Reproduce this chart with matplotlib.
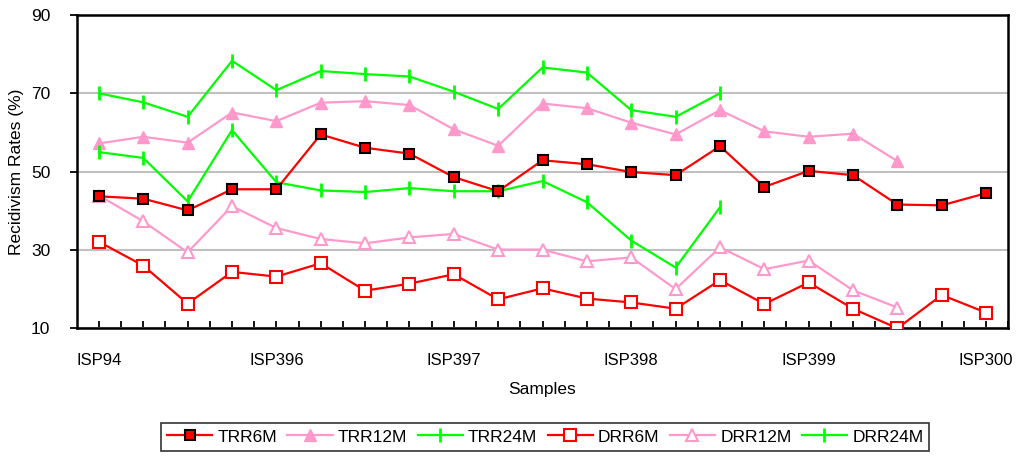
import numpy as np
import matplotlib
matplotlib.use("Agg")
from matplotlib import pyplot as plt

plt.rcParams['font.family'] = ['Liberation Sans', 'DejaVu Sans']

# tick labels on the category axis (every 4th sample)
tick_names = ['ISP94', 'ISP396', 'ISP397', 'ISP398', 'ISP399', 'ISP300']

trr6m = [43.7, 43.1, 40.1, 45.5, 45.5, 59.5, 56.1, 54.6, 48.6, 45.0, 52.9,
         51.9, 49.9, 49.1, 56.5, 46.1, 50.2, 49.1, 41.6, 41.4, 44.5]
trr12m = [57.2, 58.9, 57.4, 65.1, 62.9, 67.6, 68.0, 67.0, 60.8, 56.6, 67.4,
          66.2, 62.5, 59.5, 65.7, 60.3, 58.9, 59.7, 52.7]
trr24m = [70.0, 67.7, 64.0, 78.3, 70.8, 75.7, 74.9, 74.3, 70.4, 66.0, 76.6,
          75.3, 65.7, 64.0, 70.0]
drr6m = [32.1, 26.0, 16.3, 24.4, 23.2, 26.6, 19.6, 21.4, 23.8, 17.4, 20.2,
         17.6, 16.6, 15.0, 22.3, 16.2, 21.7, 15.0, 10.0, 18.5, 14.0]
drr12m = [43.9, 37.3, 29.4, 41.2, 35.6, 32.8, 31.7, 33.2, 34.1, 30.1, 30.1,
          27.1, 28.1, 20.0, 30.7, 25.1, 27.3, 19.7, 15.3]
drr24m = [55.0, 53.5, 42.4, 60.6, 47.3, 45.2, 44.8, 45.8, 45.0, 45.0, 47.6,
          42.2, 32.4, 25.5, 40.9]

red = '#FF0000'
pink = '#FF99CC'
green = '#00FF00'

fig = plt.figure(figsize=(10.19, 4.57), dpi=100)
ax = fig.add_axes([0.0753, 0.2816, 0.9142, 0.6856])

def idx(vals):
    return np.arange(len(vals))

ax.plot(idx(trr6m), trr6m, color=red, lw=1.6, marker='s', ms=7.5,
        mfc=red, mec='black', mew=1.5, label='TRR6M', zorder=5)
ax.plot(idx(trr12m), trr12m, color=pink, lw=1.6, marker='^', ms=9,
        mfc=pink, mec=pink, label='TRR12M', zorder=4)
ax.plot(idx(trr24m), trr24m, color=green, lw=1.6, marker='|', ms=10,
        mew=2, label='TRR24M', zorder=4)
ax.plot(idx(drr6m), drr6m, color=red, lw=1.6, marker='s', ms=8,
        mfc='white', mec=red, mew=1.5, label='DRR6M', zorder=4)
ax.plot(idx(drr12m), drr12m, color=pink, lw=1.6, marker='^', ms=9,
        mfc='white', mec=pink, mew=1.5, label='DRR12M', zorder=4)
ax.plot(idx(drr24m), drr24m, color=green, lw=1.6, marker='|', ms=10,
        mew=2, label='DRR24M', zorder=4)

ax.set_xlim(-0.5, 20.5)
ax.set_ylim(10, 90)
ax.set_yticks([10, 30, 50, 70, 90])
ax.yaxis.grid(True, color='#C0C0C0', lw=1.5, zorder=0)
ax.set_axisbelow(True)

ax.set_xticks(np.arange(0, 21, 4))
ax.set_xticklabels(tick_names)
ax.set_xticks(np.arange(0, 20.6, 0.5), minor=True)
ax.tick_params(axis='x', which='both', direction='in', length=5, width=1.3,
               pad=18, labelsize=12)
ax.tick_params(axis='y', direction='out', length=5, width=1.3, pad=14,
               labelsize=12.5)

for s in ax.spines.values():
    s.set_linewidth(1.8)

ax.set_xlabel('Samples', fontsize=12.5, labelpad=10)
ax.set_ylabel('Recidivism Rates (%)', fontsize=12.5, labelpad=5)

leg = fig.legend(loc='center', ncol=6, fontsize=12.5, frameon=True,
                 fancybox=False, edgecolor='black', handlelength=2.6,
                 handletextpad=0.3, columnspacing=0.6, borderpad=0.35)
leg.set_bbox_to_anchor((0.535, 0.0438), transform=fig.transFigure)
leg.get_frame().set_linewidth(1.2)

fig.savefig('out.png', dpi=100)
